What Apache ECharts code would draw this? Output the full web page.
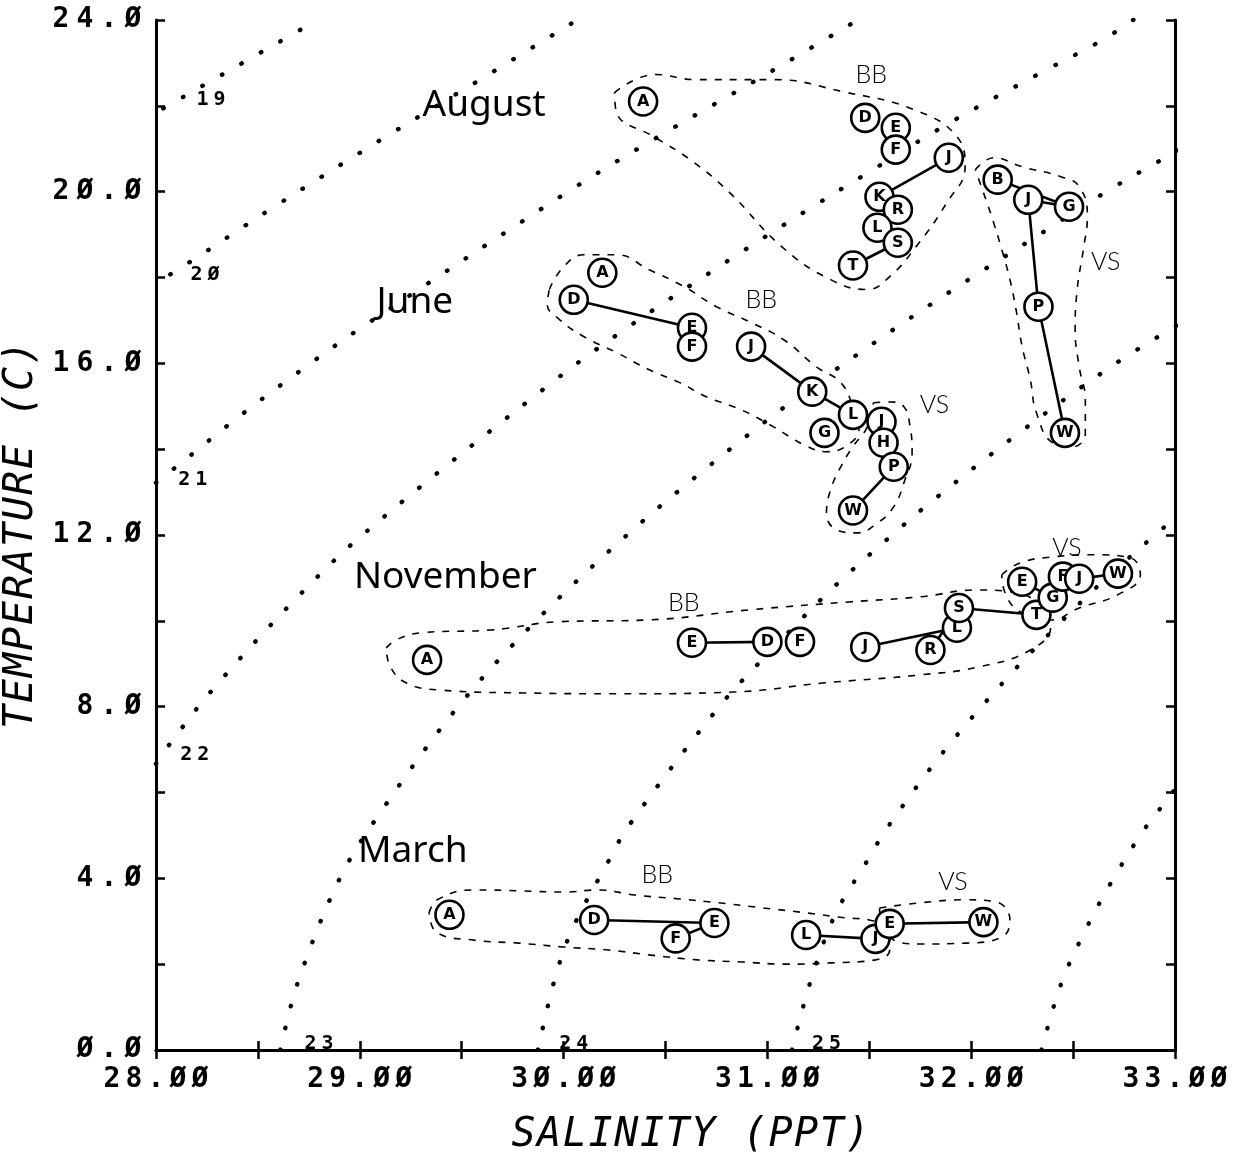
<!DOCTYPE html>
<html><head><meta charset="utf-8">
<script src="https://cdn.jsdelivr.net/npm/echarts@6/dist/echarts.min.js"></script>
<style>html,body{margin:0;padding:0;background:#fff}#c{width:1238px;height:1159px}</style>
</head><body><div id="c"></div>
<script>
// ---------- tick labels ----------
const xTickValues = [28, 29, 30, 31, 32, 33];
const xTickLabels = ['28.ØØ', '29.ØØ', '3Ø.ØØ', '31.ØØ', '32.ØØ', '33.ØØ'];
const yTickValues = [0, 4, 8, 12, 16, 20, 24];
const yTickLabels = ['Ø.Ø', '4.Ø', '8.Ø', '12.Ø', '16.Ø', '2Ø.Ø', '24.Ø'];
const xTitle = 'SALINITY (PPT)';
const yTitle = 'TEMPERATURE (C)';

// ---------- sigma-t isopycnals (salinity, temperature) ----------
const sigma19 = [[27.94,21.68],[28.083,22.07],[28.667,23.66],[28.80,24.02]];
const sigma20 = [[27.97,17.85],[28.059,18.04],[28.574,19.63],[29.114,21.24],[29.59,22.61],[30.10,24.1]];
const sigma21 = [[28.0,13.22],[28.118,13.66],[28.432,14.85],[28.770,16.04],[29.001,16.81],[30.022,20.0],[30.439,21.21],[31.018,22.80],[31.46,24.05]];
const sigma22 = [[28.0,6.67],[28.083,7.23],[28.28,8.41],[28.667,10.42],[29.02,12.03],[29.953,15.59],[30.306,16.81],[30.807,18.39],[31.199,19.58],[31.479,20.40],[31.896,21.61],[32.342,22.77],[32.647,23.54],[32.80,24.02]];
const sigma23 = [[28.61,0],[28.697,1.59],[28.903,4.01],[29.109,5.59],[29.482,8.0],[29.869,10.02],[30.311,12.0],[30.709,13.59],[31.145,15.20],[31.616,16.78],[31.994,17.97],[32.387,19.16],[32.656,19.98],[32.936,20.75],[33.05,21.05]];
const sigma24 = [[29.874,0],[29.953,1.59],[30.041,2.80],[30.218,4.38],[30.316,5.20],[30.758,7.97],[30.988,9.16],[31.322,10.77],[31.607,11.98],[31.803,12.77],[32.23,14.36],[32.691,15.94],[33.05,17.0]];
const sigma25 = [[31.121,0],[31.209,1.56],[31.332,3.15],[31.484,4.36],[31.587,5.17],[31.871,6.99],[32.19,8.74],[32.436,9.95],[32.612,10.77],[32.892,11.96],[33.02,12.47]];
const sigma26 = [[32.345,0],[32.441,1.54],[32.554,2.73],[32.691,3.94],[32.848,5.13],[32.976,5.92],[33.05,6.4]];
const sigmaCurves = [sigma19, sigma20, sigma21, sigma22, sigma23, sigma24, sigma25, sigma26];
const sigmaLabels = [['19',28.27,22.14],['2Ø',28.24,18.07],['21',28.18,13.29],['22',28.19,6.88],['23',28.80,0.14],['24',30.05,0.14],['25',31.29,0.14]];

// ---------- stations: [letter, salinity, temperature] ----------
const augBB = [['A',30.39,22.10],['D',31.48,21.72],['E',31.63,21.49],['F',31.63,20.98],['J',31.89,20.79],['K',31.55,19.88],['R',31.64,19.58],['L',31.54,19.16],['S',31.64,18.81],['T',31.42,18.28]];
const augVS = [['B',32.13,20.28],['J',32.28,19.81],['G',32.48,19.65],['P',32.33,17.32],['W',32.46,14.38]];
const junBB = [['A',30.19,18.11],['D',30.05,17.48],['E',30.63,16.83],['F',30.63,16.39],['J',30.92,16.39],['K',31.22,15.34],['L',31.42,14.80],['G',31.28,14.38]];
const junVS = [['J',31.56,14.64],['H',31.57,14.15],['P',31.62,13.59],['W',31.42,12.57]];
const novBB = [['A',29.33,9.09],['E',30.63,9.49],['D',31.00,9.51],['F',31.16,9.51],['J',31.48,9.39],['R',31.80,9.32],['L',31.93,9.84],['S',31.94,10.30],['T',32.32,10.14]];
const novVS = [['E',32.25,10.91],['G',32.40,10.54],['F',32.45,11.03],['J',32.53,10.98],['W',32.72,11.10]];
const marBB = [['A',29.44,3.15],['D',30.15,3.03],['E',30.74,2.96],['F',30.55,2.60],['L',31.19,2.68],['J',31.53,2.59]];
const marVS = [['E',31.60,2.94],['W',32.06,2.98]];

// connecting lines (B = BB station, V = VS station)
const augLinks = [['B.J','B.K','B.R','B.L','B.S','B.T'],['V.B','V.G'],['V.J','V.G'],['V.J','V.P','V.W']];
const junLinks = [['B.D','B.E'],['B.J','B.K','B.L'],['V.J','V.H','V.P','V.W']];
const novLinks = [['B.E','B.D'],['B.J','B.L'],['B.R','B.S'],['B.S','B.T','V.G'],['V.E','V.G','V.J','V.W'],['V.F','V.J']];
const marLinks = [['B.D','B.E','B.F'],['B.L','B.J'],['V.E','V.W']];

// dashed group envelopes (salinity, temperature)
const augBBEnv = [[30.25,22.31],[30.45,22.73],[30.65,22.61],[31.03,22.61],[31.37,22.33],[31.72,21.91],[31.93,21.28],[31.97,20.58],[31.88,19.74],[31.73,18.72],[31.60,18.02],[31.49,17.72],[31.31,17.95],[31.07,18.72],[30.81,20.0],[30.62,20.75],[30.45,21.26],[30.26,21.84],[30.25,22.31]];
const augVSEnv = [[32.02,20.51],[32.11,20.79],[32.25,20.58],[32.44,20.35],[32.53,20.12],[32.57,19.42],[32.55,18.65],[32.52,17.72],[32.51,16.78],[32.53,15.92],[32.56,15.15],[32.56,14.38],[32.50,14.06],[32.40,14.15],[32.32,14.85],[32.29,15.62],[32.25,16.39],[32.22,17.25],[32.19,17.95],[32.15,18.65],[32.11,19.28],[32.06,19.98],[32.02,20.51]];
const junBBEnv = [[29.93,17.72],[30.00,18.25],[30.10,18.53],[30.26,18.53],[30.42,18.18],[30.59,17.79],[30.75,17.32],[30.92,16.95],[31.08,16.55],[31.24,15.92],[31.36,15.55],[31.42,14.99],[31.45,14.52],[31.41,14.15],[31.29,13.94],[31.18,14.10],[31.03,14.52],[30.87,14.92],[30.70,15.22],[30.57,15.55],[30.42,15.85],[30.26,16.25],[30.10,16.62],[29.98,17.02],[29.92,17.37],[29.93,17.72]];
const junVSEnv = [[31.52,15.08],[31.60,15.10],[31.67,14.99],[31.70,14.52],[31.71,13.92],[31.67,13.22],[31.62,12.66],[31.54,12.28],[31.44,12.05],[31.34,12.12],[31.29,12.52],[31.31,13.05],[31.36,13.59],[31.42,14.06],[31.49,14.52],[31.52,15.08]];
const novBBEnv = [[29.13,9.37],[29.18,9.56],[29.30,9.72],[29.65,9.79],[29.98,9.98],[30.41,10.02],[30.92,10.26],[31.40,10.44],[31.75,10.56],[32.03,10.72],[32.19,10.68],[32.34,10.37],[32.39,9.86],[32.29,9.32],[32.04,8.93],[31.75,8.74],[31.27,8.55],[30.83,8.34],[30.29,8.30],[29.80,8.32],[29.39,8.39],[29.23,8.55],[29.15,8.93],[29.13,9.37]];
const novVSEnv = [[32.15,11.07],[32.24,11.35],[32.40,11.49],[32.60,11.54],[32.78,11.47],[32.83,11.07],[32.72,10.61],[32.53,10.30],[32.39,10.02],[32.24,10.21],[32.17,10.61],[32.15,11.07]];
const marBBEnv = [[29.34,3.19],[29.38,3.50],[29.56,3.73],[29.78,3.71],[30.00,3.68],[30.17,3.73],[30.35,3.61],[30.57,3.52],[30.76,3.43],[30.98,3.31],[31.20,3.19],[31.38,3.08],[31.50,3.03],[31.60,2.75],[31.60,2.33],[31.53,2.10],[31.31,2.03],[31.09,2.00],[30.88,2.05],[30.66,2.10],[30.43,2.21],[30.22,2.33],[30.00,2.40],[29.78,2.49],[29.56,2.56],[29.38,2.73],[29.34,3.19]];
const marVSEnv = [[31.55,3.31],[31.75,3.43],[31.97,3.50],[32.12,3.45],[32.19,3.03],[32.15,2.63],[31.97,2.49],[31.75,2.47],[31.62,2.56],[31.56,3.03],[31.55,3.31]];
const envelopes = [augBBEnv, augVSEnv, junBBEnv, junVSEnv, novBBEnv, novVSEnv, marBBEnv, marVSEnv];

// text annotations
const monthLabels = [['August',29.61,22.0],['June',29.27,17.41],['November',29.42,11.0],['March',29.26,4.62]];
const siteLabels = [['BB',31.51,22.73],['VS',32.66,18.37],['BB',30.97,17.48],['VS',31.82,15.03],['BB',30.59,10.42],['VS',32.47,11.70],['BB',30.46,4.08],['VS',31.91,3.92]];

// ---------- build ----------
function cells(str, key) { return str.split('').map(ch => '{' + key + '|' + ch + '}').join(''); }
function tickText(v, vals, labs) {
  for (let i = 0; i < vals.length; i++) if (Math.abs(v - vals[i]) < 1e-6) return cells(labs[i], 'c');
  return '';
}
const groups = [
  {bb: augBB, vs: augVS, links: augLinks},
  {bb: junBB, vs: junVS, links: junLinks},
  {bb: novBB, vs: novVS, links: novLinks},
  {bb: marBB, vs: marVS, links: marLinks}
];
const series = [];
sigmaCurves.forEach(c => series.push({
  type: 'line', data: c, smooth: 0.35, symbol: 'none', silent: true, z: 1,
  lineStyle: {color: '#000', width: 4.4, type: [0.5, 22], cap: 'round'}
}));
envelopes.forEach(e => series.push({
  type: 'line', data: e, smooth: 0.45, symbol: 'none', silent: true, z: 2,
  lineStyle: {color: '#000', width: 1.6, type: [7, 8]}
}));
groups.forEach(g => {
  const find = ref => {
    const [k, letter] = ref.split('.');
    const arr = k === 'B' ? g.bb : g.vs;
    const st = arr.find(s => s[0] === letter);
    return [st[1], st[2]];
  };
  g.links.forEach(chain => series.push({
    type: 'line', data: chain.map(find), symbol: 'none', silent: true, z: 3,
    lineStyle: {color: '#000', width: 2.6}
  }));
  [g.bb, g.vs].forEach(arr => series.push({
    type: 'scatter', silent: true, z: 5, symbol: 'circle', symbolSize: 28,
    data: arr.map(s => ({name: s[0], value: [s[1], s[2]]})),
    itemStyle: {color: '#fff', borderColor: '#000', borderWidth: 2.6, opacity: 1},
    label: {show: true, position: 'inside', formatter: '{b}', color: '#000',
      fontFamily: 'DejaVu Sans', fontWeight: 'bold', fontSize: 16}
  }));
});
const textLabel = (extra) => Object.assign({show: true, position: 'inside', color: '#000', opacity: 1,
  textBorderWidth: 0, textShadowBlur: 0}, extra);
series.push({
  type: 'scatter', silent: true, z: 6, symbolSize: 0.01, itemStyle: {color: '#000', opacity: 1},
  data: monthLabels.map(m => ({name: m[0], value: [m[1], m[2]]})),
  label: textLabel({formatter: '{b}', fontFamily: 'Noto Sans', fontWeight: 'normal', fontSize: 37})
});
series.push({
  type: 'scatter', silent: true, z: 6, symbolSize: 0.01, itemStyle: {color: '#000', opacity: 1},
  data: siteLabels.map(m => ({name: m[0], value: [m[1], m[2]]})),
  label: textLabel({formatter: '{b}', fontFamily: 'Lato', fontWeight: 300, fontSize: 25})
});
series.push({
  type: 'scatter', silent: true, z: 6, symbolSize: 0.01, itemStyle: {color: '#000', opacity: 1},
  data: sigmaLabels.map(m => ({name: m[0], value: [m[1], m[2]]})),
  label: textLabel({formatter: p => cells(p.name, 's'),
    rich: {s: {width: 17, align: 'center', fontFamily: 'DejaVu Sans Mono', fontWeight: 'bold', fontSize: 20, color: '#000'}}})
});

const axisLineStyle = {show: true, lineStyle: {color: '#000', width: 3}};
const tickStyle = {show: true, inside: true, length: 9, lineStyle: {color: '#000', width: 2.5}};
const numRich = w => ({c: {width: w, align: 'center', fontFamily: 'DejaVu Sans Mono', fontWeight: 'bold', fontSize: 28, color: '#000'}});
const nameRich = w => ({n: {width: w, align: 'center', fontFamily: 'DejaVu Sans Mono', fontStyle: 'italic', fontSize: 40, color: '#000'}});

const option = {
  animation: false,
  backgroundColor: '#fff',
  grid: {left: 156, right: 63, top: 20, bottom: 109, outerBoundsMode: 'none', containLabel: false},
  xAxis: [{
    type: 'value', min: 28, max: 33, interval: 0.5, position: 'bottom',
    axisLine: axisLineStyle, axisTick: tickStyle, splitLine: {show: false},
    axisLabel: {margin: 16, color: '#000', formatter: v => tickText(v, xTickValues, xTickLabels), rich: numRich(22)},
    name: cells(xTitle, 'n'), nameLocation: 'middle', nameGap: 66,
    nameTextStyle: {color: '#000', rich: nameRich(25.7), padding: [0, 0, 0, 50]}
  }, {
    type: 'value', min: 28, max: 33, interval: 0.5, position: 'top',
    axisLine: axisLineStyle, axisTick: tickStyle, splitLine: {show: false}, axisLabel: {show: false}
  }],
  yAxis: [{
    type: 'value', min: 0, max: 24, interval: 2, position: 'left',
    axisLine: axisLineStyle, axisTick: tickStyle, splitLine: {show: false},
    axisLabel: {margin: 11, color: '#000', formatter: v => tickText(v, yTickValues, yTickLabels), rich: numRich(24)},
    name: cells(yTitle, 'n'), nameLocation: 'middle', nameGap: 100,
    nameTextStyle: {color: '#000', rich: nameRich(26)}
  }, {
    type: 'value', min: 0, max: 24, interval: 2, position: 'right',
    axisLine: axisLineStyle, axisTick: tickStyle, splitLine: {show: false}, axisLabel: {show: false}
  }],
  series: series
};
const chart = echarts.init(document.getElementById('c'), null, {renderer: 'canvas'});
chart.setOption(option);
</script>
</body></html>
